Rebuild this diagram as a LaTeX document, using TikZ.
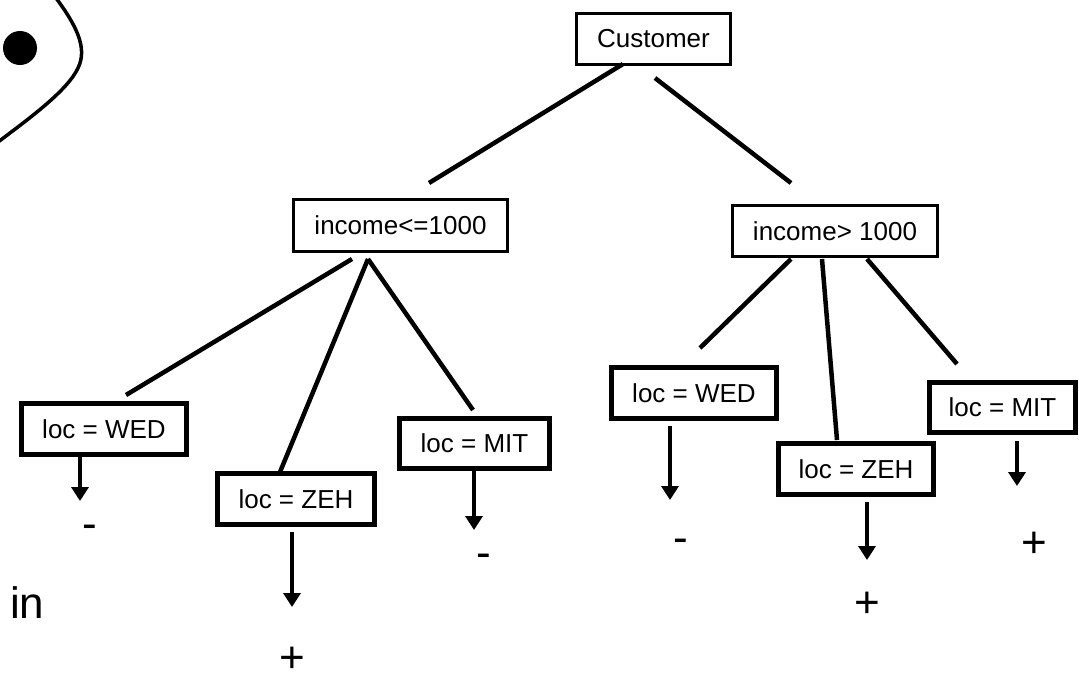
\documentclass[tikz,border=0pt]{standalone}
\usepackage{fontspec}
\setmainfont{Liberation Sans}
\usetikzlibrary{arrows.meta}
\begin{document}
\begin{tikzpicture}[x=1pt,y=-1pt,
  testbox/.style={draw, line width=3pt, inner sep=0pt, font=\fontsize{26}{30}\selectfont},
  leafbox/.style={draw, line width=5pt, inner sep=0pt, font=\fontsize{26}{30}\selectfont},
  branch/.style={line width=4.5pt},
  outcome/.style={line width=4.5pt, -{Triangle[length=14pt,width=17pt]}},
  classlabel/.style={anchor=base, inner sep=0pt, font=\fontsize{44}{50}\selectfont}]
\useasboundingbox (0,0) rectangle (1079,675);

% partially visible oval with a dot
\draw[line width=3.5pt] (56,-2) .. controls (76,25) and (88,48) .. (78,68)
  .. controls (68,90) and (30,118) .. (-2,142);
\fill (20,48) circle (17);
\node[anchor=base west, inner sep=0pt, font=\fontsize{44}{50}\selectfont] (inlabel) at (10,618) {in};

% decision nodes
\node[testbox, minimum width=154, minimum height=51] (cust) at (653.5,39) {Customer};
\node[testbox, minimum width=214, minimum height=52] (inclo) at (400.5,225.5) {income<=1000};
\node[testbox, minimum width=205, minimum height=51] (inchi) at (835,231) {income> 1000};

% leaf tests
\node[leafbox, minimum width=165, minimum height=51] (wedl) at (104,429) {loc = WED};
\node[leafbox, minimum width=157, minimum height=51] (zehl) at (296,499) {loc = ZEH};
\node[leafbox, minimum width=150, minimum height=50] (mitl) at (474.5,443.5) {loc = MIT};
\node[leafbox, minimum width=165, minimum height=51] (wedr) at (694,393) {loc = WED};
\node[leafbox, minimum width=155, minimum height=51] (zehr) at (856,469) {loc = ZEH};
\node[leafbox, minimum width=146, minimum height=50] (mitr) at (1002.5,407.5) {loc = MIT};

% class labels
\node[classlabel] (wedlc) at (90,538) {-};
\node[classlabel] (zehlc) at (292,672) {+};
\node[classlabel] (mitlc) at (484,567) {-};
\node[classlabel] (wedrc) at (681,552) {-};
\node[classlabel] (zehrc) at (867,617) {+};
\node[classlabel] (mitrc) at (1034,557) {+};

% branch end points
\coordinate (c1a) at (623,64);  \coordinate (c1b) at (429,183);
\coordinate (c2a) at (655,78);  \coordinate (c2b) at (791,183);
\coordinate (l1a) at (352,259); \coordinate (l1b) at (126,395);
\coordinate (l2a) at (368,259); \coordinate (l2b) at (280,472);
\coordinate (l3a) at (368,259); \coordinate (l3b) at (473,410);
\coordinate (r1a) at (791,259); \coordinate (r1b) at (700,348);
\coordinate (r2a) at (822,259); \coordinate (r2b) at (837,440);
\coordinate (r3a) at (867,259); \coordinate (r3b) at (957,364);

\draw[branch] (c1a) -- (c1b);
\draw[branch] (c2a) -- (c2b);
\draw[branch] (l1a) -- (l1b);
\draw[branch] (l2a) -- (l2b);
\draw[branch] (l3a) -- (l3b);
\draw[branch] (r1a) -- (r1b);
\draw[branch] (r2a) -- (r2b);
\draw[branch] (r3a) -- (r3b);

% outcome arrows
\coordinate (a1a) at (80,457);   \coordinate (a1b) at (80,501);
\coordinate (a2a) at (292,532);  \coordinate (a2b) at (292,607);
\coordinate (a3a) at (474,471);  \coordinate (a3b) at (474,530);
\coordinate (a4a) at (670,426);  \coordinate (a4b) at (670,500);
\coordinate (a5a) at (867,502);  \coordinate (a5b) at (867,560);
\coordinate (a6a) at (1017,441); \coordinate (a6b) at (1017,486);

\draw[outcome] (a1a) -- (a1b);
\draw[outcome] (a2a) -- (a2b);
\draw[outcome] (a3a) -- (a3b);
\draw[outcome] (a4a) -- (a4b);
\draw[outcome] (a5a) -- (a5b);
\draw[outcome] (a6a) -- (a6b);
\end{tikzpicture}
\end{document}
